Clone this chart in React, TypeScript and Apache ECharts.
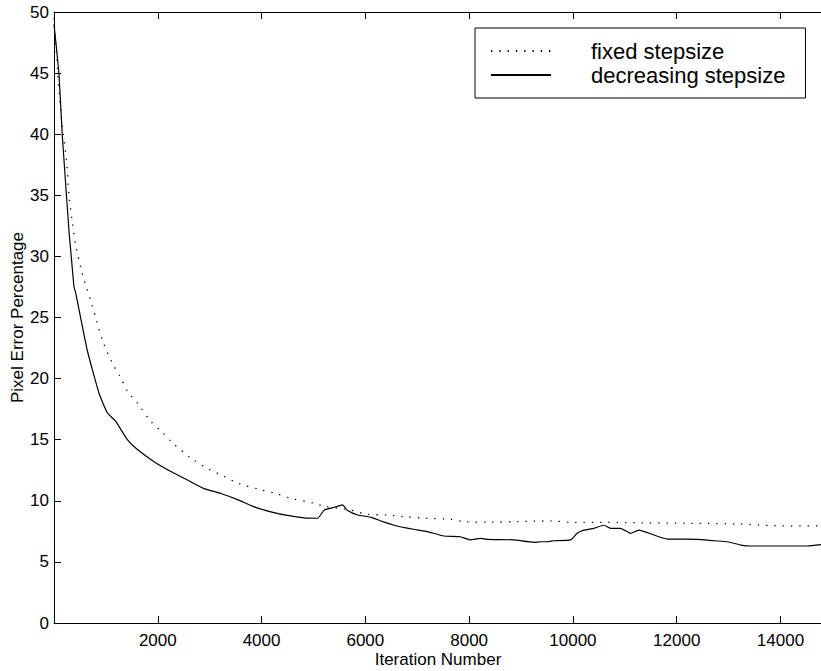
import React, { useEffect, useRef } from "react";
import * as echarts from "echarts";

const fixedX = [0, 141, 237, 289, 353, 419, 515, 592, 720, 816, 945, 1125, 1267, 1427, 1607, 1865, 2089, 2282, 2637, 2957, 3279, 3569, 3987, 4277, 4566, 5015, 5195, 5710, 6032, 6418, 6732, 7189, 7639, 7895, 8410, 8925, 9568, 10017, 10596, 11304, 12268, 13233, 13875, 14800];
const fixedY = [49.5, 41.3, 38, 35, 32.8, 30.9, 29.1, 27.9, 26.2, 24.8, 23.0, 21.25, 20.2, 18.9, 18.0, 16.5, 15.6, 14.75, 13.5, 12.65, 12.0, 11.4, 10.9, 10.6, 10.2, 9.8, 9.57, 9.25, 8.9, 8.84, 8.7, 8.57, 8.49, 8.3, 8.25, 8.3, 8.35, 8.24, 8.24, 8.2, 8.16, 8.1, 7.96, 7.94];

const decX = [0, 96, 160, 290, 322, 386, 419, 642, 868, 1028, 1190, 1414, 1607, 1929, 2251, 2571, 2894, 3216, 3536, 3858, 4180, 4500, 4822, 5080, 5208, 5401, 5561, 5658, 5851, 6114, 6288, 6607, 6928, 7189, 7511, 7831, 8024, 8217, 8346, 8860, 9246, 9374, 9503, 9632, 9953, 10082, 10210, 10403, 10596, 10725, 10918, 11110, 11271, 11560, 11818, 12397, 12718, 12975, 13233, 13426, 13747, 14261, 14518, 14800];
const decY = [49, 44.9, 39.9, 32, 30.5, 27.5, 27.0, 22.3, 18.8, 17.2, 16.5, 15.0, 14.2, 13.2, 12.4, 11.7, 11.0, 10.6, 10.1, 9.5, 9.1, 8.8, 8.6, 8.57, 9.25, 9.47, 9.66, 9.2, 8.84, 8.65, 8.37, 7.94, 7.67, 7.48, 7.12, 7.06, 6.8, 6.93, 6.85, 6.8, 6.6, 6.65, 6.65, 6.73, 6.8, 7.34, 7.6, 7.75, 8.0, 7.75, 7.75, 7.34, 7.6, 7.2, 6.87, 6.85, 6.73, 6.65, 6.38, 6.3, 6.3, 6.3, 6.3, 6.42];

const seriesNames = ["fixed stepsize", "decreasing stepsize"];
const xLabel = "Iteration Number";
const yLabel = "Pixel Error Percentage";

const FONT = "'Liberation Sans', Arial, sans-serif";

export default function App() {
  const ref = useRef<HTMLDivElement>(null);
  useEffect(() => {
    document.body.style.margin = "0";
    const chart = echarts.init(ref.current!, null, { renderer: "svg" });
    const axisCommon = {
      axisLine: { show: true, lineStyle: { color: "#000", width: 1 } },
      axisTick: { show: true, inside: true, length: 7, lineStyle: { color: "#000" } },
      splitLine: { show: false },
    };
    chart.setOption({
      animation: false,
      backgroundColor: "#fff",
      textStyle: { fontFamily: FONT, color: "#000" },
      grid: { left: 54, top: 12, width: 768, height: 611, containLabel: false, outerBoundsMode: "none" },
      legend: {
        orient: "vertical",
        left: 475,
        top: 28,
        padding: [11, 20, 11, 15],
        borderColor: "#000",
        borderWidth: 1,
        backgroundColor: "#fff",
        itemWidth: 60,
        itemHeight: 14,
        itemGap: 0,
        selectedMode: false,
        textStyle: { fontFamily: FONT, fontSize: 22, color: "#000", lineHeight: 24, padding: [0, 0, 0, 35] },
        data: [
          { name: seriesNames[0], itemStyle: { opacity: 0 } },
          { name: seriesNames[1], itemStyle: { opacity: 0 } },
        ],
      },
      xAxis: [
        {
          type: "value",
          min: 0,
          max: 14800,
          interval: 2000,
          position: "bottom",
          ...axisCommon,
          axisLabel: {
            showMinLabel: false,
            showMaxLabel: false,
            fontSize: 17,
            color: "#000",
            fontFamily: FONT,
            margin: 9,
            formatter: (v: number) => String(v),
          },
          name: xLabel,
          nameLocation: "middle",
          nameGap: 28,
          nameMoveOverlap: false,
          nameTextStyle: { fontSize: 17, color: "#000", fontFamily: FONT },
        },
        {
          type: "value",
          min: 0,
          max: 14800,
          interval: 2000,
          position: "top",
          ...axisCommon,
          axisLabel: { show: false },
        },
      ],
      yAxis: [
        {
          type: "value",
          min: 0,
          max: 50,
          interval: 5,
          ...axisCommon,
          axisLabel: { fontSize: 17, color: "#000", fontFamily: FONT, margin: 5 },
          name: yLabel,
          nameLocation: "middle",
          nameGap: 28,
          nameMoveOverlap: false,
          nameTextStyle: { fontSize: 17, color: "#000", fontFamily: FONT },
        },
      ],
      series: [
        {
          name: seriesNames[0],
          type: "line",
          data: fixedX.map((x, i) => [x, fixedY[i]]),
          showSymbol: false,
          symbol: "none",
          smooth: 0.3,
          color: "#000",
          lineStyle: { color: "#000", width: 1.3, type: [1.3, 7] },
          z: 2,
        },
        {
          name: seriesNames[1],
          type: "line",
          data: decX.map((x, i) => [x, decY[i]]),
          showSymbol: false,
          symbol: "none",
          smooth: 0.15,
          color: "#000",
          lineStyle: { color: "#000", width: 1.2, type: "solid" },
          z: 3,
        },
      ],
    });
    return () => chart.dispose();
  }, []);
  return <div ref={ref} style={{ width: 821, height: 671 }} />;
}
